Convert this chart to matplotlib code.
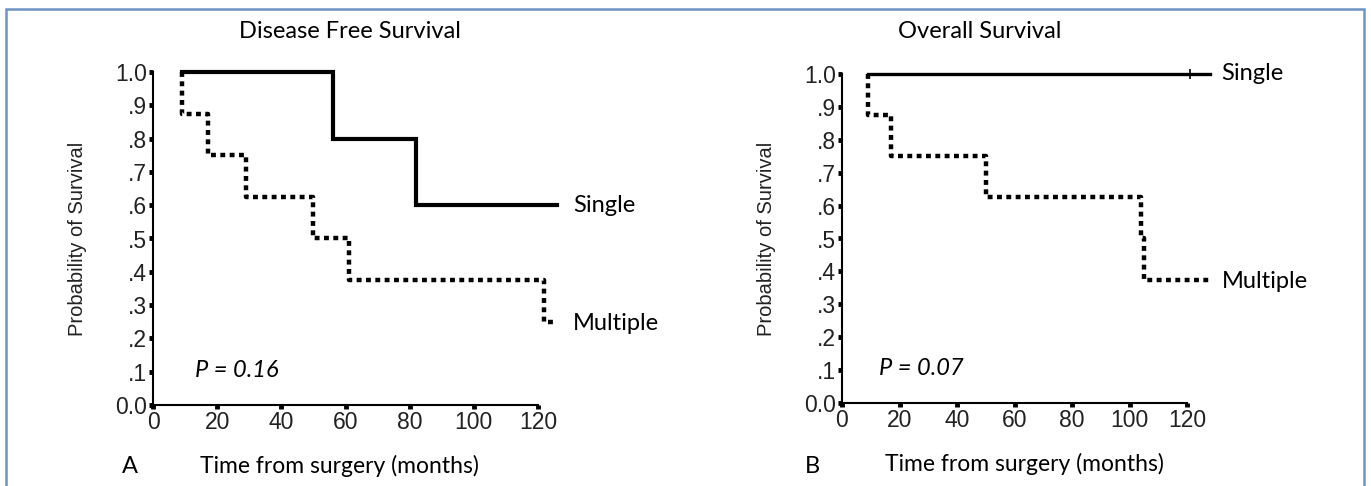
import numpy as np
import matplotlib.pyplot as plt
from matplotlib.patches import Rectangle

# Disease free survival (panel A): step times (months) and survival levels
dfs_single_t = [9, 56, 82, 126]
dfs_single_s = [1.0, 0.8, 0.6, 0.6]
dfs_multi_t = [9, 9, 17, 29, 50, 61, 122, 126]
dfs_multi_s = [1.0, 0.875, 0.75, 0.625, 0.5, 0.375, 0.25, 0.25]

# Overall survival (panel B)
os_single_t = [9, 128]
os_single_s = [1.0, 1.0]
os_single_censor = [121]
os_multi_t = [9, 9, 17, 50, 104, 105, 128]
os_multi_s = [1.0, 0.875, 0.75, 0.625, 0.5, 0.375, 0.375]

x_ticks = [0, 20, 40, 60, 80, 100, 120]
y_ticks = [0.0, 0.1, 0.2, 0.3, 0.4, 0.5, 0.6, 0.7, 0.8, 0.9, 1.0]
y_labels = ['0.0', '.1', '.2', '.3', '.4', '.5', '.6', '.7', '.8', '.9', '1.0']

ARIAL = ['Liberation Sans', 'DejaVu Sans']
CALIBRI = ['Lato', 'DejaVu Sans']


def steps(t, s):
    # build stair coordinates: value holds until next time, then drops
    xs, ys = [t[0]], [s[0]]
    for i in range(1, len(t)):
        xs.append(t[i])
        ys.append(s[i - 1])
        xs.append(t[i])
        ys.append(s[i])
    return xs, ys


def setup_axes(ax):
    ax.set_xlim(0, 120)
    ax.set_ylim(0, 1.0)
    ax.spines['top'].set_visible(False)
    ax.spines['right'].set_visible(False)
    ax.spines['left'].set_linewidth(1.5)
    ax.spines['bottom'].set_linewidth(1.5)
    ax.set_xticks(x_ticks)
    ax.set_yticks(y_ticks)
    ax.set_yticklabels(y_labels)
    ax.tick_params(axis='both', direction='out', length=3, width=3.5,
                   labelsize=16.5, pad=1.5, labelcolor='#222222')
    for lab in ax.get_xticklabels() + ax.get_yticklabels():
        lab.set_family(ARIAL)
    ax.set_ylabel('Probability of Survival', family=ARIAL, fontsize=14.5,
                  labelpad=20, color='#222222')


def main():
    fig = plt.figure(figsize=(13.71, 4.86), dpi=100)

    # outer frame
    fig.patches.append(Rectangle((6 / 1371, -0.1), 1358 / 1371, 1.1 - 9 / 486,
                                 transform=fig.transFigure, fill=False,
                                 edgecolor='#6f93c4', linewidth=1.8))

    ax1 = fig.add_axes([153 / 1371, 1 - 405 / 486, 385 / 1371, 333 / 486])
    ax2 = fig.add_axes([842 / 1371, 1 - 403 / 486, 345 / 1371, 329 / 486])

    dot = (0, (1.1, 1.0))
    fs = 17

    # panel A
    setup_axes(ax1)
    x, y = steps(dfs_single_t, dfs_single_s)
    ax1.plot(x, y, color='black', lw=3, clip_on=False, solid_joinstyle='miter')
    x, y = steps(dfs_multi_t, dfs_multi_s)
    ax1.plot(x, y, color='black', lw=3.2, ls=dot, clip_on=False)
    ax1.text(131, 0.6, 'Single', family=CALIBRI, fontsize=fs, va='center')
    ax1.text(131, 0.245, 'Multiple', family=CALIBRI, fontsize=fs, va='center')
    ax1.text(13, 0.105, 'P = 0.16', family=CALIBRI, fontsize=fs,
             style='italic', va='center')
    fig.text(350 / 1371, 1 - 32 / 486, 'Disease Free Survival', family=CALIBRI,
             fontsize=fs, ha='center', va='center')
    fig.text(122 / 1371, 1 - 466 / 486, 'A', family=CALIBRI, fontsize=fs,
             va='center')
    fig.text(200 / 1371, 1 - 466 / 486, 'Time from surgery (months)',
             family=CALIBRI, fontsize=16.5, va='center')

    # panel B
    setup_axes(ax2)
    x, y = steps(os_single_t, os_single_s)
    ax2.plot(x, y, color='black', lw=2.4, clip_on=False)
    ax2.plot(os_single_censor, [1.0], marker='|', ms=7, mew=1.2,
             color='black', ls='none', clip_on=False)
    x, y = steps(os_multi_t, os_multi_s)
    ax2.plot(x, y, color='black', lw=3.2, ls=dot, clip_on=False)
    ax2.text(132, 1.0, 'Single', family=CALIBRI, fontsize=fs, va='center')
    ax2.text(132, 0.37, 'Multiple', family=CALIBRI, fontsize=fs, va='center')
    ax2.text(13, 0.105, 'P = 0.07', family=CALIBRI, fontsize=fs,
             style='italic', va='center')
    fig.text(980 / 1371, 1 - 32 / 486, 'Overall Survival', family=CALIBRI,
             fontsize=fs, ha='center', va='center')
    fig.text(805 / 1371, 1 - 466 / 486, 'B', family=CALIBRI, fontsize=fs,
             va='center')
    fig.text(885 / 1371, 1 - 464 / 486, 'Time from surgery (months)',
             family=CALIBRI, fontsize=16.5, va='center')

    fig.savefig('out.png', dpi=100)


if __name__ == '__main__':
    main()
